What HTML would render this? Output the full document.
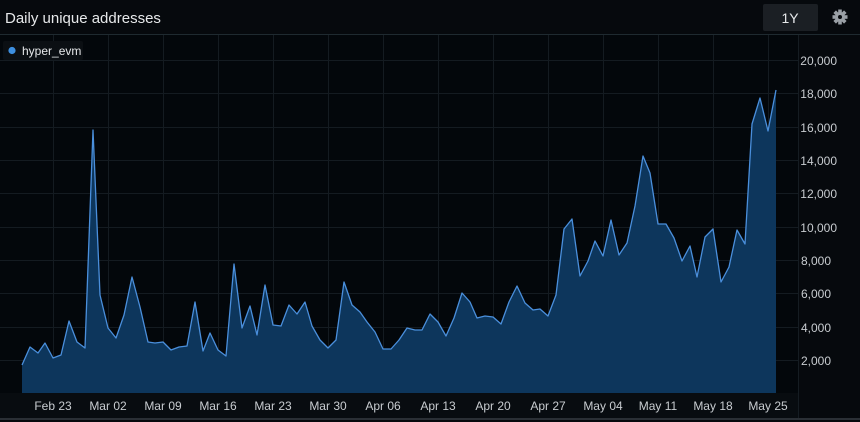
<!DOCTYPE html>
<html><head><meta charset="utf-8"><style>
html,body{margin:0;padding:0;background:#06090d;}
body{width:860px;height:422px;overflow:hidden;position:relative;font-family:"Liberation Sans",sans-serif;}
</style></head><body>
<svg width="860" height="422" xmlns="http://www.w3.org/2000/svg" style="position:absolute;left:0;top:0">
<rect x="0" y="0" width="860" height="422" fill="#06090d"/>
<rect x="0" y="35" width="798" height="358" fill="#03070b"/>
<rect x="0" y="393" width="798" height="25" fill="#080c10"/>
<line x1="0" y1="34.5" x2="860" y2="34.5" stroke="#1f2a30" stroke-width="1"/>
<line x1="0" y1="419" x2="860" y2="419" stroke="#2a2f35" stroke-width="2"/>
<line x1="798.5" y1="35" x2="798.5" y2="418" stroke="#151c22" stroke-width="1"/>
<g stroke="#141b21" stroke-width="1">
<line x1="0" y1="60.5" x2="798" y2="60.5"/><line x1="0" y1="93.5" x2="798" y2="93.5"/>
<line x1="0" y1="127.5" x2="798" y2="127.5"/><line x1="0" y1="160.5" x2="798" y2="160.5"/>
<line x1="0" y1="193.5" x2="798" y2="193.5"/><line x1="0" y1="227.5" x2="798" y2="227.5"/>
<line x1="0" y1="260.5" x2="798" y2="260.5"/><line x1="0" y1="293.5" x2="798" y2="293.5"/>
<line x1="0" y1="327.5" x2="798" y2="327.5"/><line x1="0" y1="360.5" x2="798" y2="360.5"/>
<line x1="53.5" y1="35" x2="53.5" y2="393"/><line x1="108.5" y1="35" x2="108.5" y2="393"/>
<line x1="163.5" y1="35" x2="163.5" y2="393"/><line x1="218.5" y1="35" x2="218.5" y2="393"/>
<line x1="273.5" y1="35" x2="273.5" y2="393"/><line x1="328.5" y1="35" x2="328.5" y2="393"/>
<line x1="383.5" y1="35" x2="383.5" y2="393"/><line x1="438.5" y1="35" x2="438.5" y2="393"/>
<line x1="493.5" y1="35" x2="493.5" y2="393"/><line x1="548.5" y1="35" x2="548.5" y2="393"/>
<line x1="603.5" y1="35" x2="603.5" y2="393"/><line x1="658.5" y1="35" x2="658.5" y2="393"/>
<line x1="713.5" y1="35" x2="713.5" y2="393"/><line x1="768.5" y1="35" x2="768.5" y2="393"/>
</g>
<polygon fill="#0d365c" points="22,393 22,365 30,347 38,353 45,343 53,358 61,355 69,321 77,342 85,348 93,130 100,295 108,328 116,338 124,315 132,277 140,307 148,342 155,343 163,342 171,350 179,347 187,346 195,302 203,351 210,333 218,350 226,356 234,264 242,328 250,306 257,335 265,285 273,325 281,326 289,305 297,314 305,302 312,326 320,340 328,348 336,340 344,282 352,305 360,312 367,322 375,332 383,349 391,349 399,340 407,328 415,330 422,330 430,314 438,322 446,336 454,318 462,293 470,302 477,318 485,316 493,317 501,324 509,302 517,286 525,303 533,310 540,309 548,316 556,295 564,229 572,219 580,276 588,261 595,241 603,256 611,220 619,255 627,243 635,206 643,156 650,173 658,224 666,224 674,238 682,261 690,246 697,277 705,237 713,229 721,282 729,267 737,230 745,244 752,124 760,98 768,131 776,90 776,393"/>
<polyline fill="none" stroke="#4a8fdc" stroke-width="1.3" stroke-linejoin="round" points="22,365 30,347 38,353 45,343 53,358 61,355 69,321 77,342 85,348 93,130 100,295 108,328 116,338 124,315 132,277 140,307 148,342 155,343 163,342 171,350 179,347 187,346 195,302 203,351 210,333 218,350 226,356 234,264 242,328 250,306 257,335 265,285 273,325 281,326 289,305 297,314 305,302 312,326 320,340 328,348 336,340 344,282 352,305 360,312 367,322 375,332 383,349 391,349 399,340 407,328 415,330 422,330 430,314 438,322 446,336 454,318 462,293 470,302 477,318 485,316 493,317 501,324 509,302 517,286 525,303 533,310 540,309 548,316 556,295 564,229 572,219 580,276 588,261 595,241 603,256 611,220 619,255 627,243 635,206 643,156 650,173 658,224 666,224 674,238 682,261 690,246 697,277 705,237 713,229 721,282 729,267 737,230 745,244 752,124 760,98 768,131 776,90"/>
<g fill="#c8ccd0" font-size="12" text-anchor="end">
<text x="837" y="65">20,000</text><text x="837" y="98">18,000</text><text x="837" y="132">16,000</text>
<text x="837" y="165">14,000</text><text x="837" y="198">12,000</text><text x="837" y="232">10,000</text>
<text x="831" y="265">8,000</text><text x="831" y="298">6,000</text><text x="831" y="332">4,000</text>
<text x="831" y="365">2,000</text>
</g>
<g fill="#c8ccd0" font-size="12" text-anchor="middle">
<text x="53" y="410">Feb 23</text><text x="108" y="410">Mar 02</text><text x="163" y="410">Mar 09</text>
<text x="218" y="410">Mar 16</text><text x="273" y="410">Mar 23</text><text x="328" y="410">Mar 30</text>
<text x="383" y="410">Apr 06</text><text x="438" y="410">Apr 13</text><text x="493" y="410">Apr 20</text>
<text x="548" y="410">Apr 27</text><text x="603" y="410">May 04</text><text x="658" y="410">May 11</text>
<text x="713" y="410">May 18</text><text x="768" y="410">May 25</text>
</g>
<text x="5" y="23" fill="#e6e8ea" font-size="15">Daily unique addresses</text>
<rect x="763" y="4" width="55" height="27" rx="2" fill="#1b1f24"/>
<text x="790" y="23" fill="#e6e8ea" font-size="14" text-anchor="middle">1Y</text>
<g transform="translate(840,17)" fill="#9aa0a6">
<circle r="5"/>
<rect x="-1.8" y="-7.5" width="3.6" height="15"/>
<rect x="-7.5" y="-1.8" width="15" height="3.6"/>
<rect x="-1.8" y="-7.5" width="3.6" height="15" transform="rotate(45)"/>
<rect x="-1.8" y="-7.5" width="3.6" height="15" transform="rotate(-45)"/>
<circle r="2" fill="#06090d"/>
</g>
<rect x="3" y="41" width="80" height="19" rx="2" fill="#0b0f13"/>
<circle cx="12" cy="50.5" r="3.6" fill="#3d8fe0"/>
<text x="22" y="55" fill="#e6e8ea" font-size="12">hyper_evm</text>
</svg>
</body></html>
